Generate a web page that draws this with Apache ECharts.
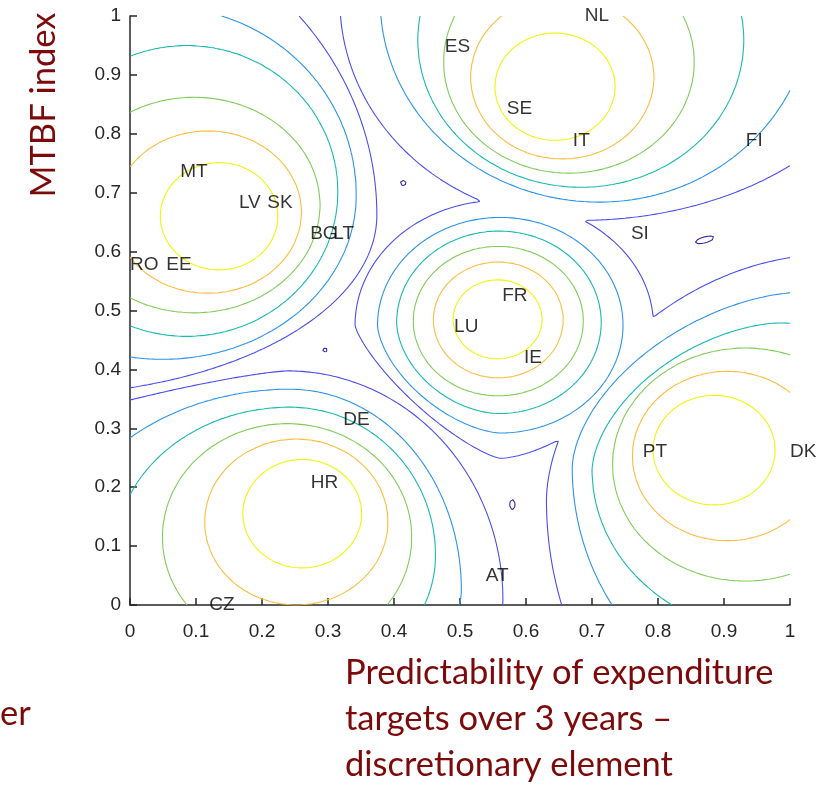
<!DOCTYPE html>
<html><head><meta charset="utf-8">
<script src="https://cdn.jsdelivr.net/npm/echarts/dist/echarts.min.js"></script>
<style>html,body{margin:0;padding:0;background:#fff}#c{width:819px;height:789px}</style>
</head><body><div id="c"></div>
<script>
// ---- country labels (x = predictability, y = MTBF index)
const countries = ['NL','ES','SE','IT','FI','MT','LV','SK','BG','LT','SI','RO','EE','FR','LU','IE','DE','HR','PT','DK','AT','CZ'];
const countryX  = [0.689,0.477,0.571,0.671,0.933,0.076,0.165,0.208,0.273,0.308,0.759,0.000,0.055,0.564,0.491,0.597,0.323,0.274,0.777,1.000,0.539,0.120];
const countryY  = [1.000,0.947,0.843,0.789,0.789,0.736,0.683,0.683,0.631,0.631,0.631,0.577,0.577,0.525,0.473,0.420,0.314,0.207,0.261,0.261,0.050,0.000];

// ---- contour levels and colours (parula)
const levelValues = [0,1,2,3,4,5,6];
const levelColors = ['#3e26a8','#4a4ef0','#2b93ec','#17b9b2','#81cc59','#fcbd3d','#f3f20e'];

// ---- density peaks: closed level curves, levels 1..6
// [centreX, centreY, radiusLeft, radiusRight, radiusDown, radiusUp, expBL, expBR, expTL, expTR]
const peakLeftEggs = [
  [-0.150,0.662,0.500,0.524,0.306,0.535,2,2,2,2],
  [0.050,0.696,0.293,0.293,0.279,0.319,2,2,2,2],
  [0.086,0.702,0.229,0.229,0.246,0.248,2,2,2,2],
  [0.097,0.679,0.191,0.191,0.183,0.183,2,2,2,2],
  [0.118,0.667,0.142,0.142,0.138,0.138,2,2,2,2],
  [0.135,0.660,0.089,0.089,0.091,0.091,2,2,2,2]
];
const peakTopEggs = [
  [0.682,1.027,0.364,0.482,0.374,0.374,2,2,2,2],
  [0.712,1.027,0.333,0.322,0.343,0.343,2,2,2,2],
  [0.683,0.959,0.247,0.247,0.250,0.250,2,2,2,2],
  [0.665,0.922,0.190,0.190,0.189,0.189,2,2,2,2],
  [0.655,0.896,0.139,0.139,0.139,0.139,2,2,2,2],
  [0.644,0.880,0.091,0.091,0.091,0.091,2,2,2,2]
];
const peakMiddleEggs = [
  [0.561,0.475,0.220,0.232,0.226,0.212,1.3,1.6,2,2],
  [0.561,0.475,0.186,0.186,0.183,0.183,1.6,2,2,2],
  [0.559,0.480,0.155,0.155,0.155,0.155,1.8,2,2,2],
  [0.558,0.482,0.129,0.129,0.127,0.127,2,2,2,2],
  [0.558,0.484,0.0985,0.0985,0.0985,0.0985,2,2,2,2],
  [0.557,0.485,0.0674,0.0674,0.067,0.067,2,2,2,2]
];
const peakBottomLeftEggs = [
  [0.238,0.0085,0.964,0.327,0.170,0.389,2,2,1.3,2],
  [0.242,0.0255,0.371,0.260,0.170,0.341,2,2,2,2],
  [0.242,0.085,0.265,0.221,0.222,0.251,2,2,2,2],
  [0.238,0.115,0.189,0.189,0.193,0.193,2,2,2,2],
  [0.252,0.141,0.139,0.139,0.141,0.141,2,2,2,2],
  [0.261,0.155,0.090,0.090,0.092,0.092,2,2,2,2]
];
const peakBottomRightEggs = [
  [1.045,0.178,0.414,0.414,0.540,0.416,2,2,1.8,2],
  [1.015,0.234,0.345,0.300,0.414,0.297,2,2,1.7,2],
  [0.985,0.229,0.285,0.227,0.280,0.250,2,2,1.7,2],
  [0.932,0.2385,0.201,0.201,0.198,0.198,2,2,2,2],
  [0.905,0.253,0.144,0.144,0.144,0.144,2,2,2,2],
  [0.885,0.263,0.0924,0.0924,0.093,0.093,2,2,2,2]
];
// tiny lowest-level loops in the flat valleys
const loopX = [0.4136,0.871,0.2955,0.579];
const loopY = [0.7165,0.620,0.433,0.170];
const loopSx = [0.0045,0.0125,0.0030,0.0040];
const loopSy = [0.0045,0.0042,0.0028,0.0085];
const loopAngle = [0,0.30,0,0];

const peaks = [peakLeftEggs, peakTopEggs, peakMiddleEggs, peakBottomLeftEggs, peakBottomRightEggs];
const valleyFloor = 0.4;

function rho(e, x, y) {
  const dx = x - e[0], dy = y - e[1];
  const ax = Math.abs(dx) / (dx < 0 ? e[2] : e[3]);
  const ay = Math.abs(dy) / (dy < 0 ? e[4] : e[5]);
  const p = dx < 0 ? (dy < 0 ? e[6] : e[8]) : (dy < 0 ? e[7] : e[9]);
  if (p === 2) return Math.sqrt(ax * ax + ay * ay);
  return Math.pow(Math.pow(ax, p) + Math.pow(ay, p), 1 / p);
}
function peakValue(eggs, x, y) {
  const phi = new Array(eggs.length);
  let k = 0;
  for (let i = 0; i < eggs.length; i++) { phi[i] = 1 - rho(eggs[i], x, y); if (phi[i] >= 0) k = i + 1; }
  const a = Math.min(Math.max(k, 1), eggs.length - 1);
  const pa = phi[a - 1], pb = phi[a];
  const den = Math.max(pa - pb, 0.02);
  return a + pa / den;
}
function field(x, y) {
  let f = valleyFloor;
  for (const pk of peaks) { const v = peakValue(pk, x, y); if (v > f) f = v; }
  for (let i = 0; i < loopX.length; i++) {
    const dx = x - loopX[i], dy = y - loopY[i];
    const c = Math.cos(loopAngle[i]), s = Math.sin(loopAngle[i]);
    const u = (dx * c + dy * s) / loopSx[i], w = (-dx * s + dy * c) / loopSy[i];
    f -= 0.8 * Math.exp(-(u * u + w * w) / 2);
  }
  return f;
}

// ---- grid + marching squares
const N = 501, step = 1 / (N - 1);
const F = new Float64Array(N * N);
for (let j = 0; j < N; j++) for (let i = 0; i < N; i++) F[j * N + i] = field(i * step, j * step);

function contourLines(L) {
  const pts = new Map(), adj = new Map();
  function addPt(key, x, y) { if (!pts.has(key)) pts.set(key, [x, y]); }
  function link(a, b) {
    if (!adj.has(a)) adj.set(a, []); if (!adj.has(b)) adj.set(b, []);
    adj.get(a).push(b); adj.get(b).push(a);
  }
  for (let j = 0; j < N - 1; j++) for (let i = 0; i < N - 1; i++) {
    const a = F[j * N + i], b = F[j * N + i + 1], c = F[(j + 1) * N + i + 1], d = F[(j + 1) * N + i];
    const A = a >= L, B = b >= L, C = c >= L, D = d >= L;
    if (A === B && B === C && C === D) continue;
    const eb = (j * N + i) * 2, er = (j * N + i + 1) * 2 + 1, et = ((j + 1) * N + i) * 2, el = (j * N + i) * 2 + 1;
    const list = [];
    if (A !== B) { const t = (L - a) / (b - a); addPt(eb, (i + t) * step, j * step); list.push(eb); }
    if (B !== C) { const t = (L - b) / (c - b); addPt(er, (i + 1) * step, (j + t) * step); list.push(er); }
    if (D !== C) { const t = (L - d) / (c - d); addPt(et, (i + t) * step, (j + 1) * step); list.push(et); }
    if (A !== D) { const t = (L - a) / (d - a); addPt(el, i * step, (j + t) * step); list.push(el); }
    if (list.length === 2) link(list[0], list[1]);
    else if (list.length === 4) {
      const s = (a + b + c + d) / 4 >= L;
      if (A === s) { link(eb, er); link(et, el); } else { link(eb, el); link(er, et); }
    }
  }
  const visited = new Set(), lines = [];
  function walk(start) {
    const line = [pts.get(start)]; visited.add(start);
    let prev = -1, cur = start;
    while (true) {
      const nb = adj.get(cur); let nxt = -1;
      for (const n of nb) if (n !== prev && !visited.has(n)) { nxt = n; break; }
      if (nxt === -1) {
        if (line.length > 2 && nb.indexOf(start) >= 0 && prev !== start) line.push(pts.get(start));
        break;
      }
      line.push(pts.get(nxt)); visited.add(nxt); prev = cur; cur = nxt;
    }
    return line;
  }
  for (const [k, nb] of adj) if (nb.length === 1 && !visited.has(k)) lines.push(walk(k));
  for (const [k] of adj) if (!visited.has(k)) lines.push(walk(k));
  return lines;
}

const series = [];
levelValues.forEach((L, li) => {
  contourLines(L).forEach(line => {
    if (line.length < 2) return;
    series.push({
      type: 'line', data: line, symbol: 'none', showSymbol: false, silent: true,
      lineStyle: { color: levelColors[li], width: 1.1 }, z: 2, animation: false, clip: true
    });
  });
});
series.push({
  type: 'scatter', symbolSize: 0, z: 5, clip: false, silent: true,
  data: countries.map((n, i) => ({ name: n, value: [countryX[i], countryY[i]] })),
  label: { show: true, formatter: '{b}', position: [0, 0], align: 'left', verticalAlign: 'middle',
    color: '#000', fontSize: 19, fontFamily: 'Liberation Sans, Arial, sans-serif' }
});

const axisCommon = {
  type: 'value', min: 0, max: 1, interval: 0.1,
  axisLine: { show: true, onZero: false, lineStyle: { color: '#262626', width: 1.5 } },
  axisTick: { show: true, inside: true, length: 7, lineStyle: { color: '#262626', width: 1.5 } },
  splitLine: { show: false }
};
const tickFont = 'Liberation Sans, Arial, sans-serif';
const titleFont = 'Lato, "Open Sans", sans-serif';
const titleColor = '#7d0a0a';
const chart = echarts.init(document.getElementById('c'), null, { renderer: 'canvas' });
chart.setOption({
  animation: false,
  backgroundColor: '#fff',
  grid: { left: 130, right: 29, top: 16, bottom: 184, containLabel: false },
  xAxis: Object.assign({}, axisCommon, { axisLabel: { fontSize: 19, color: '#262626', margin: 17, fontFamily: tickFont } }),
  yAxis: Object.assign({}, axisCommon, { axisLabel: { fontSize: 19, color: '#262626', margin: 9, fontFamily: tickFont } }),
  series: series,
  graphic: [
    { type: 'text', x: 44, y: 105, rotation: Math.PI / 2,
      style: { text: 'MTBF index', fontSize: 34.5, fontFamily: titleFont, fill: titleColor, align: 'center', verticalAlign: 'middle' } },
    { type: 'text', x: 345, y: 650,
      style: { text: 'Predictability of expenditure\ntargets over 3 years –\ndiscretionary element', fontSize: 34.5, lineHeight: 46,
        fontFamily: titleFont, fill: titleColor, align: 'left', verticalAlign: 'top' } },
    { type: 'text', x: 0, y: 714,
      style: { text: 'er', fontSize: 34.5, fontFamily: titleFont, fill: titleColor, align: 'left', verticalAlign: 'middle' } }
  ]
});
</script></body></html>
